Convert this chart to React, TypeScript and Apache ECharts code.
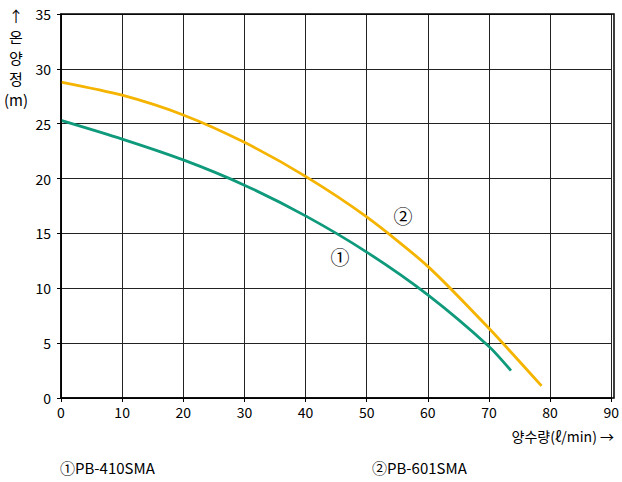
import React, { useEffect, useRef } from "react";
import * as echarts from "echarts";

const xTicks = [0, 10, 20, 30, 40, 50, 60, 70, 80, 90];
const yTicks = [0, 5, 10, 15, 20, 25, 30, 35];
const model1Name = "①PB-410SMA";
const model2Name = "②PB-601SMA";
const model1Flow = [0, 10, 20, 30, 40, 50, 60, 70, 73.6];
const model1Head = [25.3, 23.6, 21.7, 19.4, 16.6, 13.3, 9.4, 4.7, 2.5];
const model2Flow = [0, 10, 20, 30, 40, 50, 60, 70, 78.6];
const model2Head = [28.8, 27.6, 25.8, 23.3, 20.2, 16.5, 12.0, 6.35, 1.1];

const FONT = "'Noto Sans CJK KR', 'Noto Sans', sans-serif";

export default function App() {
  const ref = useRef<HTMLDivElement>(null);
  useEffect(() => {
    if (!ref.current) return;
    const chart = echarts.init(ref.current, null, { renderer: "svg" });
    const d1 = model1Flow.map((x, i) => [x, model1Head[i]]);
    const d2 = model2Flow.map((x, i) => [x, model2Head[i]]);
    chart.setOption({
      animation: false,
      backgroundColor: "#fff",
      grid: { left: 61, right: 8, top: 14, bottom: 84 },
      xAxis: {
        type: "value",
        min: 0,
        max: 90,
        interval: 10,
        axisLine: { show: true, lineStyle: { color: "#000", width: 1.5 } },
        axisTick: { show: true, length: 4, lineStyle: { color: "#000" } },
        axisLabel: { color: "#000", fontSize: 14, fontFamily: FONT, margin: 7,
          formatter: (v: number) => (xTicks.includes(v) ? String(v) : "") },
        splitLine: { show: true, lineStyle: { color: "#222", width: 1 } },
      },
      yAxis: {
        type: "value",
        min: 0,
        max: 35,
        interval: 5,
        axisLine: { show: true, lineStyle: { color: "#000", width: 1.5 } },
        axisTick: { show: true, length: 4, lineStyle: { color: "#000" } },
        axisLabel: { color: "#000", fontSize: 14, fontFamily: FONT, margin: 10,
          formatter: (v: number) => (yTicks.includes(v) ? String(v) : "") },
        splitLine: { show: true, lineStyle: { color: "#222", width: 1 } },
      },
      graphic: [
        { type: "rect", shape: { x: 61, y: 14, width: 553, height: 384 }, style: { fill: "none", stroke: "#000", lineWidth: 1.5 }, silent: true, z: 10 },
        { type: "text", x: 16, y: 5, style: { text: "↑\n온\n양\n정\n(m)", fill: "#000", font: `15px ${FONT}`, lineHeight: 21, align: "center" } },
        { type: "text", x: 614, y: 429, style: { text: "양수량(ℓ/min) →", fill: "#000", font: `14px ${FONT}`, align: "right" } },
        { type: "text", x: 60, y: 460, style: { text: model1Name, fill: "#000", font: `15px ${FONT}` } },
        { type: "text", x: 372, y: 460, style: { text: model2Name, fill: "#000", font: `15px ${FONT}` } },
        { type: "text", x: 340, y: 256, style: { text: "①", fill: "#000", font: `19px ${FONT}`, align: "center", verticalAlign: "middle" } },
        { type: "text", x: 403, y: 215, style: { text: "②", fill: "#000", font: `19px ${FONT}`, align: "center", verticalAlign: "middle" } },
      ],
      series: [
        { name: model1Name, type: "line", data: d1, smooth: 0.25, showSymbol: false, lineStyle: { color: "#0f9a7c", width: 2.8 }, z: 5 },
        { name: model2Name, type: "line", data: d2, smooth: 0.25, showSymbol: false, lineStyle: { color: "#f5b400", width: 2.8 }, z: 5 },
      ],
    });
    return () => chart.dispose();
  }, []);
  return <div ref={ref} style={{ width: 622, height: 482, position: "fixed", left: 0, top: 0 }} />;
}
